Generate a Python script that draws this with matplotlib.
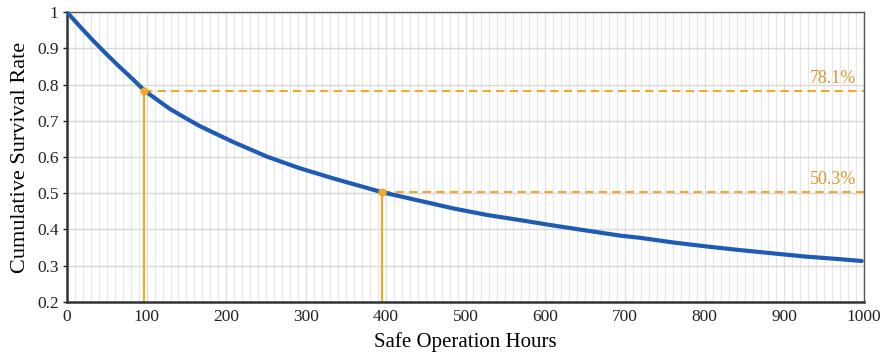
import numpy as np
import matplotlib
matplotlib.use('Agg')
import matplotlib.pyplot as plt
from matplotlib.ticker import MultipleLocator

# survival curve
hours = [0, 16, 33, 50, 66, 83, 98, 129, 150, 167, 208, 251, 292, 334, 395,
         439, 485, 527, 568, 610, 652, 694, 719, 761, 803, 845, 886, 928, 970,
         997]
survival = [1.0, 0.961, 0.921, 0.883, 0.849, 0.814, 0.782, 0.733, 0.706,
            0.685, 0.642, 0.601, 0.569, 0.541, 0.503, 0.481, 0.458, 0.440,
            0.426, 0.411, 0.397, 0.383, 0.377, 0.364, 0.353, 0.343, 0.334,
            0.325, 0.318, 0.313]

# highlighted points
mark_hours = [97, 395]
mark_rate = [0.781, 0.503]
mark_labels = ['78.1%', '50.3%']

plt.rcParams['font.family'] = ['Liberation Serif', 'DejaVu Serif']

fig = plt.figure(figsize=(8.8, 3.54), dpi=100)
ax = fig.add_axes([0.076, 0.147, 0.906, 0.819])

ax.set_xlim(0, 1000)
ax.set_ylim(0.2, 1.0)
ax.xaxis.set_major_locator(MultipleLocator(100))
ax.xaxis.set_minor_locator(MultipleLocator(10))
ax.yaxis.set_major_locator(MultipleLocator(0.1))

ax.grid(which='minor', axis='x', color='#e6e6e6', linewidth=0.8)
ax.grid(which='major', axis='x', color='#dedede', linewidth=0.9)
ax.grid(which='major', axis='y', color='#d8d8d8', linewidth=1.0)
ax.set_axisbelow(True)

gold = '#F2A927'
for h, r, lab in zip(mark_hours, mark_rate, mark_labels):
    ax.plot([h, h], [0.2, r], color=gold, lw=1.6, zorder=2)
    ax.plot([h, 1000], [r, r], color=gold, lw=1.5, ls=(0, (4, 2.5)), zorder=2)
    ax.text(990, r + 0.012, lab, color='#D49A30', fontsize=13,
            ha='right', va='bottom')

ax.plot(hours, survival, color='#1F5BB5', lw=3, solid_capstyle='round',
        solid_joinstyle='round', zorder=3)
ax.scatter(mark_hours, mark_rate, color=gold, s=24, zorder=4)

def fmt(v):
    s = ('%.1f' % v)
    return '1' if s == '1.0' else s
ax.set_yticks(np.arange(0.2, 1.01, 0.1))
ax.set_yticklabels([fmt(v) for v in np.arange(0.2, 1.01, 0.1)])

ax.tick_params(axis='both', labelsize=12.5, colors='#222222')
ax.tick_params(axis='y', which='major', length=3, width=1, pad=3)
ax.tick_params(axis='x', which='both', length=0, pad=5)

for s in ['left', 'bottom']:
    ax.spines[s].set_color('#333333')
    ax.spines[s].set_linewidth(1.8)
for s in ['top', 'right']:
    ax.spines[s].set_color('#555555')
    ax.spines[s].set_linewidth(1.0)

ax.set_xlabel('Safe Operation Hours', fontsize=15, labelpad=5)
ax.set_ylabel('Cumulative Survival Rate', fontsize=16, labelpad=5)

fig.savefig('out.png', dpi=100)
